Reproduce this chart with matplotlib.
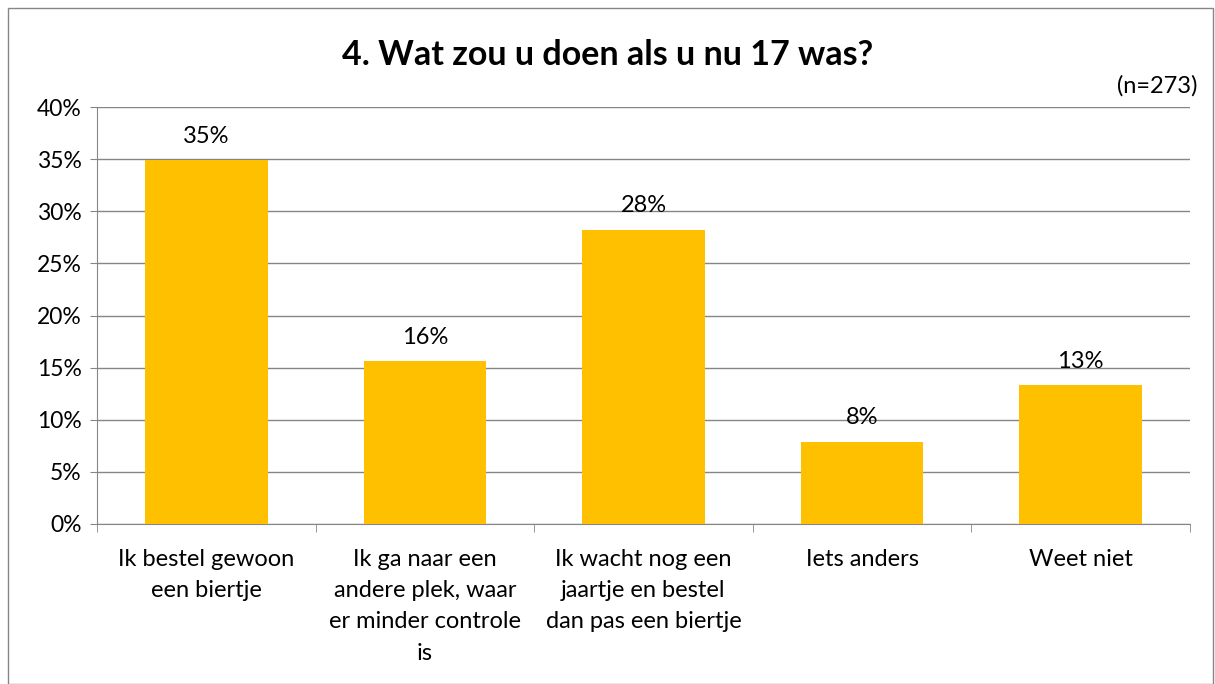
import matplotlib.pyplot as plt
import numpy as np
from matplotlib.patches import Rectangle

plt.rcParams['font.family'] = ['Lato', 'DejaVu Sans']

categories = ['Ik bestel gewoon\neen biertje',
              'Ik ga naar een\nandere plek, waar\ner minder controle\nis',
              'Ik wacht nog een\njaartje en bestel\ndan pas een biertje',
              'Iets anders',
              'Weet niet']
values = [34.9, 15.6, 28.2, 7.9, 13.3]
labels = ['35%', '16%', '28%', '8%', '13%']
yticks = [0, 5, 10, 15, 20, 25, 30, 35, 40]

fig = plt.figure(figsize=(12.15, 6.84), dpi=100)
ax = fig.add_axes([97 / 1215, 1 - 524 / 684, 1093 / 1215, 417 / 684])

x = np.arange(len(categories))
ax.bar(x, values, width=0.56, color='#FFC000', zorder=3)
for xi, v, lab in zip(x, values, labels):
    ax.text(xi, v + 1.3, lab, ha='center', va='bottom', fontsize=17)

ax.set_xlim(-0.5, len(categories) - 0.5)
ax.set_ylim(0, 40)
ax.set_yticks(yticks)
ax.set_yticklabels([f'{t}%' for t in yticks], fontsize=16.5)
ax.yaxis.grid(True, color='#868686', linewidth=1, zorder=0)

ax.set_xticks(x)
ax.set_xticklabels(categories, fontsize=17, linespacing=1.6, va='top')
ax.tick_params(axis='x', length=0, pad=18)
ax.set_xticks(np.arange(-0.5, len(categories)), minor=True)
ax.tick_params(axis='x', which='minor', length=6, color='#868686')
ax.tick_params(axis='y', length=5, color='#868686', pad=6)

for side in ['top', 'right']:
    ax.spines[side].set_visible(False)
ax.spines['left'].set_color('#868686')
ax.spines['bottom'].set_color('#868686')

fig.text(0.5, 1 - 55 / 684, '4. Wat zou u doen als u nu 17 was?',
         ha='center', va='center', fontsize=24.5, fontweight='bold')
fig.text(1197 / 1215, 1 - 86 / 684, '(n=273)', ha='right', va='center', fontsize=17)

fig.patches.append(Rectangle((8 / 1215, 0), 1 - 10 / 1215, 1 - 8 / 684,
                             transform=fig.transFigure, fill=False,
                             edgecolor='#868686', linewidth=1))

fig.savefig('out.png', dpi=100)
